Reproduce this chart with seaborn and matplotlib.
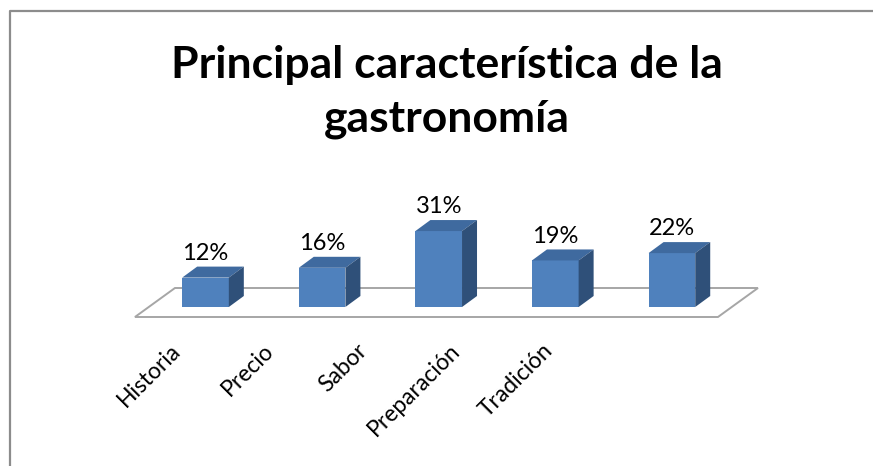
import matplotlib
matplotlib.use("Agg")
import matplotlib.pyplot as plt
import seaborn as sns
import numpy as np
from matplotlib.patches import Polygon
from matplotlib.lines import Line2D

categorias = ["Historia", "Precio", "Sabor", "Preparación", "Tradición"]
valores = [12, 16, 31, 19, 22]
etiquetas = ["12%", "16%", "31%", "19%", "22%"]
titulo = "Principal característica de la\ngastronomía"

sns.set_theme(style="white")
plt.rcParams['font.family'] = ['Lato', 'DejaVu Sans']
plt.rcParams['text.color'] = 'black'
plt.rcParams['xtick.color'] = 'black'
plt.rcParams['xtick.labelcolor'] = 'black'

W, H = 873, 466
fig = plt.figure(figsize=(W / 100, H / 100), dpi=100)
fig.patch.set_facecolor("white")

def fx(px):
    return px / W

def fy(py):
    return 1 - py / H

# frame of chart area (left + top)
fig.add_artist(Line2D([fx(9.5), fx(9.5), 1.0], [0.0, fy(10.5), fy(10.5)],
                      color="#8c8c8c", lw=1.6, transform=fig.transFigure))

# main axes (pixel layout)
spacing = 116.6
x_left = 205.5 - spacing / 2
base_py = 307
px_per_unit = 2.45
ymax = 40
ax = fig.add_axes([fx(x_left), fy(base_py), fx(5 * spacing), ymax * px_per_unit / H])
ax.set_xlim(-0.5, 4.5)
ax.set_ylim(0, ymax)
ax.axis("off")

front = "#4f81bd"
top_c = "#3f6a9f"
side_c = "#2f5079"

sns.barplot(x=categorias, y=valores, color=front, width=0.40, saturation=1,
            ax=ax, zorder=3, edgecolor="none")
ax.set_xlim(-0.5, 4.5)
ax.set_ylim(0, ymax)

# floor parallelogram
dfx = 40 / spacing
flo_front = -10 / px_per_unit
flo_back = 19 / px_per_unit
fl = -0.605
fr = 4.395
floor = Polygon([(fl, flo_front), (fr, flo_front), (fr + dfx, flo_back), (fl + dfx, flo_back)],
                closed=True, facecolor="white", edgecolor="#a6a6a6", lw=1.4,
                zorder=1, clip_on=False)
ax.add_patch(floor)

# 3D depth for bars
ddx = 15 / spacing
ddy = 11 / px_per_unit
for p, lab in zip(ax.patches[:len(valores)], etiquetas):
    x0 = p.get_x()
    w = p.get_width()
    h = p.get_height()
    p.set_clip_on(False)
    topf = Polygon([(x0, h), (x0 + ddx, h + ddy), (x0 + w + ddx, h + ddy), (x0 + w, h)],
                   closed=True, facecolor=top_c, edgecolor="none", zorder=3, clip_on=False)
    sidef = Polygon([(x0 + w, 0), (x0 + w, h), (x0 + w + ddx, h + ddy), (x0 + w + ddx, ddy)],
                    closed=True, facecolor=side_c, edgecolor="none", zorder=3, clip_on=False)
    ax.add_patch(topf)
    ax.add_patch(sidef)
    ax.annotate(lab, (x0 + w / 2, h + ddy), xytext=(0, 5), textcoords="offset points",
                ha="center", va="baseline", fontsize=17, color="black",
                annotation_clip=False)

# category labels axis
lab_sp = 93.2
lab_x0 = 177
lax = fig.add_axes([fx(lab_x0 - lab_sp / 2), fy(347), fx(5 * lab_sp), 0.001])
lax.set_xlim(-0.5, 4.5)
lax.set_xticks(range(len(categorias)))
lax.set_xticklabels(categorias, rotation=45, ha="right", va="center",
                    rotation_mode="anchor", fontsize=16.5, color="black")
lax.set_yticks([])
for s in lax.spines.values():
    s.set_visible(False)
lax.tick_params(axis="x", length=0, pad=0)
lax.patch.set_alpha(0)

# title
fig.text(fx(447), fy(45), titulo, ha="center", va="top", fontsize=32,
         fontweight="bold", linespacing=1.41, color="black")

fig.savefig("out.png", dpi=100)
